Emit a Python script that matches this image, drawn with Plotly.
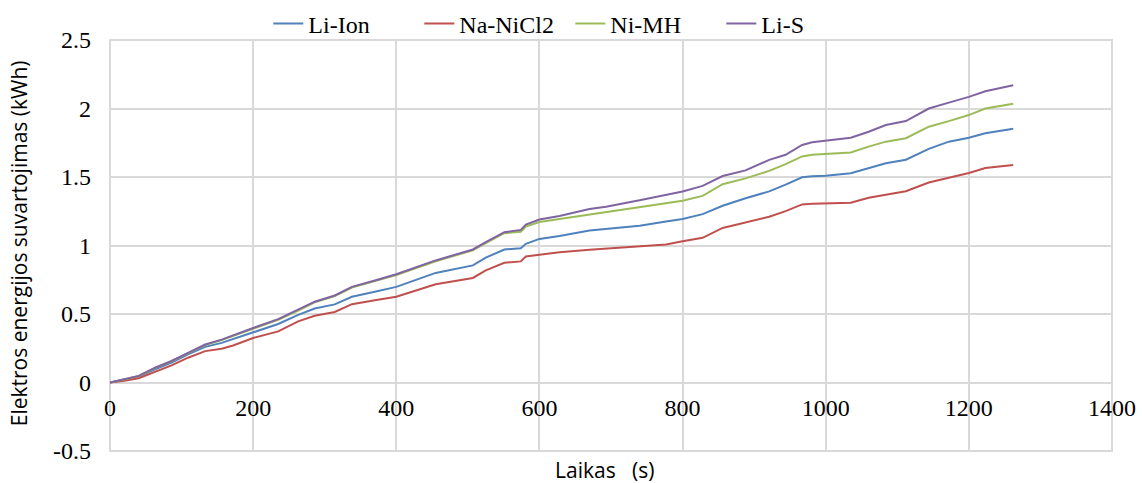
import plotly.graph_objects as go

time_s = [0, 20, 40, 63, 86, 109, 133, 156, 172, 200, 235, 263, 286, 314, 338, 370, 400,
          455, 493, 507, 525, 551, 574, 581, 600, 628, 670, 693, 740, 777, 800, 828, 856,
          888, 921, 944, 967, 981, 1000, 1035, 1060, 1084, 1112, 1144, 1172, 1200, 1223,
          1256, 1262]

li_s = [0, 0.024, 0.048, 0.108, 0.157, 0.217, 0.277, 0.313, 0.342, 0.398, 0.463, 0.53,
        0.59, 0.635, 0.698, 0.745, 0.79, 0.891, 0.952, 0.971, 1.024, 1.097, 1.114, 1.152,
        1.19, 1.215, 1.266, 1.283, 1.331, 1.37, 1.394, 1.435, 1.507, 1.548, 1.625, 1.662,
        1.734, 1.754, 1.766, 1.787, 1.83, 1.879, 1.908, 2.0, 2.043, 2.085, 2.126, 2.164, 2.17]

ni_mh = [0, 0.023, 0.047, 0.106, 0.155, 0.214, 0.273, 0.309, 0.338, 0.393, 0.458, 0.525,
         0.585, 0.63, 0.693, 0.74, 0.785, 0.885, 0.946, 0.965, 1.018, 1.09, 1.10, 1.138,
         1.172, 1.193, 1.23, 1.242, 1.278, 1.307, 1.326, 1.362, 1.447, 1.49, 1.545, 1.594,
         1.65, 1.662, 1.667, 1.679, 1.722, 1.758, 1.783, 1.867, 1.908, 1.952, 2.0, 2.031, 2.035]

li_ion = [0, 0.02, 0.043, 0.096, 0.145, 0.205, 0.26, 0.289, 0.318, 0.369, 0.427, 0.494,
          0.54, 0.57, 0.626, 0.662, 0.698, 0.80, 0.843, 0.855, 0.911, 0.971, 0.98, 1.012,
          1.048, 1.07, 1.109, 1.121, 1.145, 1.176, 1.193, 1.229, 1.29, 1.345, 1.395, 1.444,
          1.498, 1.505, 1.51, 1.527, 1.565, 1.60, 1.626, 1.705, 1.758, 1.787, 1.819, 1.85, 1.852]

na_nicl2 = [0, 0.012, 0.031, 0.077, 0.125, 0.181, 0.229, 0.246, 0.27, 0.325, 0.373, 0.446,
            0.487, 0.515, 0.572, 0.60, 0.626, 0.717, 0.751, 0.763, 0.819, 0.874, 0.884, 0.92,
            0.933, 0.95, 0.969, 0.976, 0.993, 1.007, 1.031, 1.056, 1.128, 1.169, 1.21, 1.251,
            1.30, 1.304, 1.307, 1.312, 1.348, 1.372, 1.396, 1.46, 1.493, 1.529, 1.565, 1.585, 1.587]

series_names = ["Li-Ion", "Na-NiCl2", "Ni-MH", "Li-S"]
series_colors = ["#4F81BD", "#C0504D", "#9BBB59", "#8064A2"]

y_tickvals = [-0.5, 0, 0.5, 1, 1.5, 2, 2.5]
y_ticktext = ["-0.5", "0", "0.5", "1", "1.5", "2", "2.5"]
x_tickvals = [0, 200, 400, 600, 800, 1000, 1200, 1400]
x_ticktext = ["0", "200", "400", "600", "800", "1000", "1200", "1400"]

fig = go.Figure()
for name, ys, col in zip(series_names, [li_ion, na_nicl2, ni_mh, li_s], series_colors):
    fig.add_trace(go.Scatter(x=time_s, y=ys, mode="lines", name=name,
                             line=dict(color=col, width=2)))

grid = "#d9d9d9"
serif = "Liberation Serif, Times New Roman, serif"
sans = "Open Sans, sans-serif"
tickfont = dict(family=serif, size=24, color="#000000")
fig.update_layout(
    width=1142, height=483,
    margin=dict(l=110, r=30, t=40, b=32, autoexpand=False),
    plot_bgcolor="white", paper_bgcolor="white",
    showlegend=True,
    legend=dict(orientation="h", x=0.158, xanchor="left", y=1.039, yanchor="middle",
                font=dict(family=serif, size=24, color="#000"),
                bgcolor="rgba(0,0,0,0)", entrywidth=106, entrywidthmode="pixels",
                tracegroupgap=0),
    xaxis=dict(range=[0, 1400], tickvals=x_tickvals, ticktext=x_ticktext,
               showgrid=True, gridcolor=grid, gridwidth=2, zeroline=False,
               showline=False, anchor="free", position=1/6, ticks="",
               ticklabelstandoff=8, tickfont=tickfont),
    yaxis=dict(range=[-0.5, 2.5], tickvals=y_tickvals, ticktext=y_ticktext,
               showgrid=True, gridcolor=grid, gridwidth=2, zeroline=False,
               showline=False, ticks="", ticklabelstandoff=18,
               tickfont=tickfont),
    shapes=[dict(type="rect", xref="paper", yref="paper", x0=0, x1=1, y0=0, y1=1,
                 line=dict(color=grid, width=2), layer="below")],
    annotations=[
        dict(text="Laikas   (s)", xref="paper", yref="paper", x=0.494, y=-0.046,
             xanchor="center", yanchor="middle", showarrow=False,
             font=dict(family=sans, size=21, color="#000")),
        dict(text="Elektros energijos suvartojimas (kWh)", xref="paper", yref="paper",
             x=-0.09, xanchor="center", y=0.505, yanchor="middle", textangle=-90,
             showarrow=False, font=dict(family=sans, size=21, color="#000")),
    ],
)
fig.write_html("out.html")
